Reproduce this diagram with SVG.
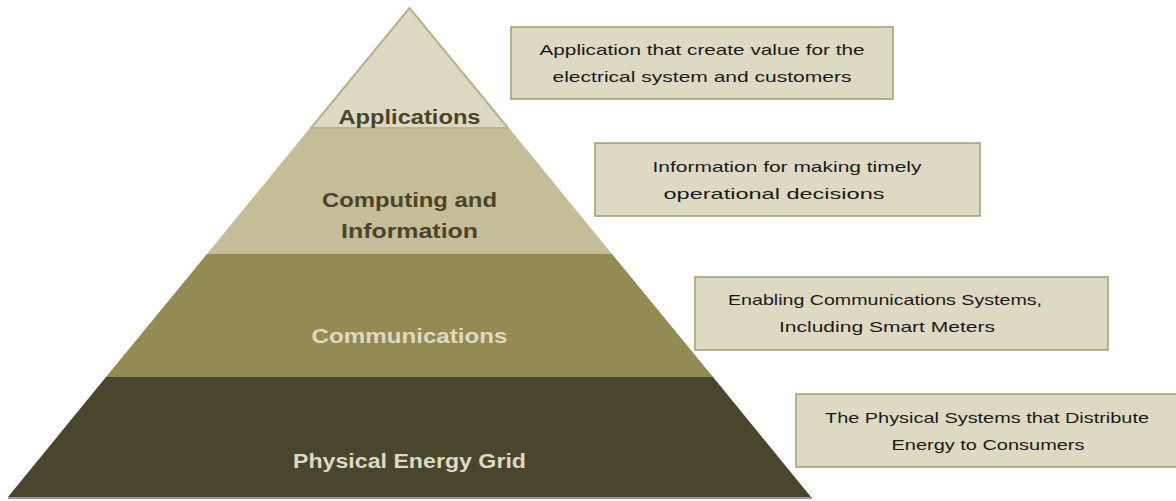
<svg xmlns="http://www.w3.org/2000/svg" width="1176" height="501" viewBox="0 0 1176 501">
<style>
.lbl{font-family:"Liberation Sans",Arial,sans-serif;font-weight:bold;font-size:21px;text-anchor:middle}
.dark{fill:#4a452a}
.light{fill:#ddd9c3}
.box{fill:#ddd9c3;stroke:#a39d6e;stroke-width:1.5}
.bt{font-family:"Liberation Sans",Arial,sans-serif;font-size:15px;fill:#1a1a1a;text-anchor:middle}
</style>
<rect width="1176" height="501" fill="#ffffff"/>
<g id="layer-grid">
<line x1="8" y1="498" x2="812" y2="498" stroke="#9a9a9a" stroke-width="2"/>
<polygon points="106,377 713,377 811,497 8,497" fill="#4a452d"/>
<text class="lbl light" x="409.5" y="468" textLength="233" lengthAdjust="spacingAndGlyphs">Physical Energy Grid</text>
</g>
<g id="layer-comm">
<polygon points="207,254 612,254 713,377 106,377" fill="#948a54"/>
<text class="lbl light" x="409.5" y="343" textLength="196" lengthAdjust="spacingAndGlyphs">Communications</text>
</g>
<g id="layer-computing">
<polygon points="310,128 509,128 612,254 207,254" fill="#c4bd97"/>
<text class="lbl dark" x="409.5" y="207" textLength="175" lengthAdjust="spacingAndGlyphs">Computing and</text>
<text class="lbl dark" x="409.5" y="238" textLength="137" lengthAdjust="spacingAndGlyphs">Information</text>
</g>
<g id="layer-apps">
<polygon points="409.5,8 508,128 311,128" fill="#ddd9c3" stroke="#bab38c" stroke-width="2" stroke-linejoin="round"/>
<text class="lbl dark" x="409.5" y="124" textLength="142" lengthAdjust="spacingAndGlyphs">Applications</text>
</g>
<g id="box-apps">
<rect class="box" x="511" y="27" width="382" height="72"/>
<text class="bt" x="702" y="55" textLength="325" lengthAdjust="spacingAndGlyphs">Application that  create value for the</text>
<text class="bt" x="702" y="82" textLength="299" lengthAdjust="spacingAndGlyphs">electrical system and customers</text>
</g>
<g id="box-computing">
<rect class="box" x="595" y="143" width="385" height="73"/>
<text class="bt" x="787" y="172" textLength="269" lengthAdjust="spacingAndGlyphs">Information for making timely</text>
<text class="bt" x="774" y="199" textLength="221" lengthAdjust="spacingAndGlyphs">operational decisions</text>
</g>
<g id="box-comm">
<rect class="box" x="695" y="277" width="413" height="73"/>
<text class="bt" x="885" y="305" textLength="314" lengthAdjust="spacingAndGlyphs">Enabling Communications Systems,</text>
<text class="bt" x="887" y="332" textLength="216" lengthAdjust="spacingAndGlyphs">Including Smart Meters</text>
</g>
<g id="box-grid">
<rect class="box" x="796" y="394" width="384" height="73"/>
<text class="bt" x="987" y="423" textLength="324" lengthAdjust="spacingAndGlyphs">The Physical Systems that Distribute</text>
<text class="bt" x="988" y="450" textLength="193" lengthAdjust="spacingAndGlyphs">Energy to Consumers</text>
</g>
<g id="connectors"></g>
</svg>
